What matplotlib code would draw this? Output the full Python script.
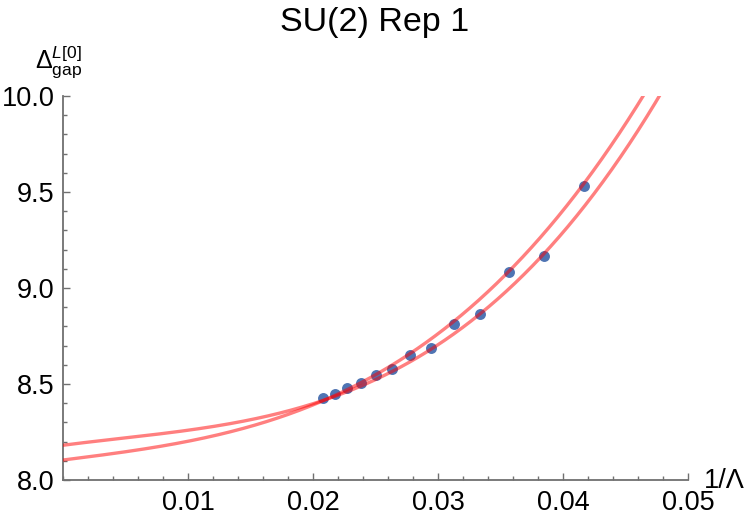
import numpy as np
import matplotlib
matplotlib.use('Agg')
import matplotlib.pyplot as plt
from matplotlib.ticker import MultipleLocator, FixedLocator

plt.rcParams['font.family'] = ['Liberation Sans', 'DejaVu Sans']
plt.rcParams['mathtext.fontset'] = 'custom'
plt.rcParams['mathtext.rm'] = 'Liberation Sans'
plt.rcParams['mathtext.it'] = 'Liberation Sans:italic'

# cutoffs Lambda and the measured gaps
lam = np.array([48, 46, 44, 42, 40, 38, 36, 34, 32, 30, 28, 26, 24])
gap = np.array([8.426, 8.449, 8.480, 8.506, 8.548, 8.577, 8.653,
                8.688, 8.812, 8.864, 9.081, 9.167, 9.532])
x_data = 1.0 / lam

# cubic extrapolation fits in 1/Lambda, coefficients estimated from the plot
# (constant, linear, quadratic, cubic)
fit_mod0 = [8.104, 8.202, 7.33, 15000.0]   # Lambda = 0 mod 4
fit_mod2 = [8.181, 8.46, -246.0, 18190.0]  # Lambda = 2 mod 4

fig = plt.figure(figsize=(7.5, 5.21), dpi=100)
ax = fig.add_axes([63 / 750, 41 / 521, 625 / 750, 384 / 521])

ax.scatter(x_data, gap, s=62, color='#4f74b3', zorder=2, linewidths=0)

t = np.linspace(0, 0.05, 500)
for c in (fit_mod0, fit_mod2):
    ax.plot(t, np.polyval(c[::-1], t), color='red', alpha=0.5, lw=2.4, zorder=3)

ax.set_xlim(0, 0.05)
ax.set_ylim(8.0, 10.0)
ax.xaxis.set_major_locator(FixedLocator([0.01, 0.02, 0.03, 0.04, 0.05]))
ax.xaxis.set_minor_locator(MultipleLocator(0.002))
ax.yaxis.set_major_locator(MultipleLocator(0.5))
ax.yaxis.set_minor_locator(MultipleLocator(0.1))
ax.xaxis.set_major_formatter(plt.FuncFormatter(lambda v, p: f"{v:.2f}"))
ax.yaxis.set_major_formatter(plt.FuncFormatter(lambda v, p: f"{v:.1f}"))

for s in ('top', 'right'):
    ax.spines[s].set_visible(False)
for s in ('left', 'bottom'):
    ax.spines[s].set_color('#707070')
    ax.spines[s].set_linewidth(1.3)
ax.tick_params(which='both', direction='in', color='#707070', width=1.0,
               labelsize=19.5)
ax.tick_params(which='major', length=5)
ax.tick_params(which='minor', length=3)
ax.tick_params(axis='y', pad=6)
ax.tick_params(axis='x', pad=7)

fig.text(0.5, 1 - 22 / 521, "SU(2) Rep 1", ha='center', va='center', fontsize=24.5)
fig.text(35 / 750, 1 - 68 / 521, r"$\Delta_{\mathrm{gap}}^{L[0]}$",
         ha='left', va='baseline', fontsize=18)
fig.text(704 / 750, 1 - 481 / 521, "1/Λ", ha='left', va='center', fontsize=19.5)

fig.savefig('out.png', dpi=100)
